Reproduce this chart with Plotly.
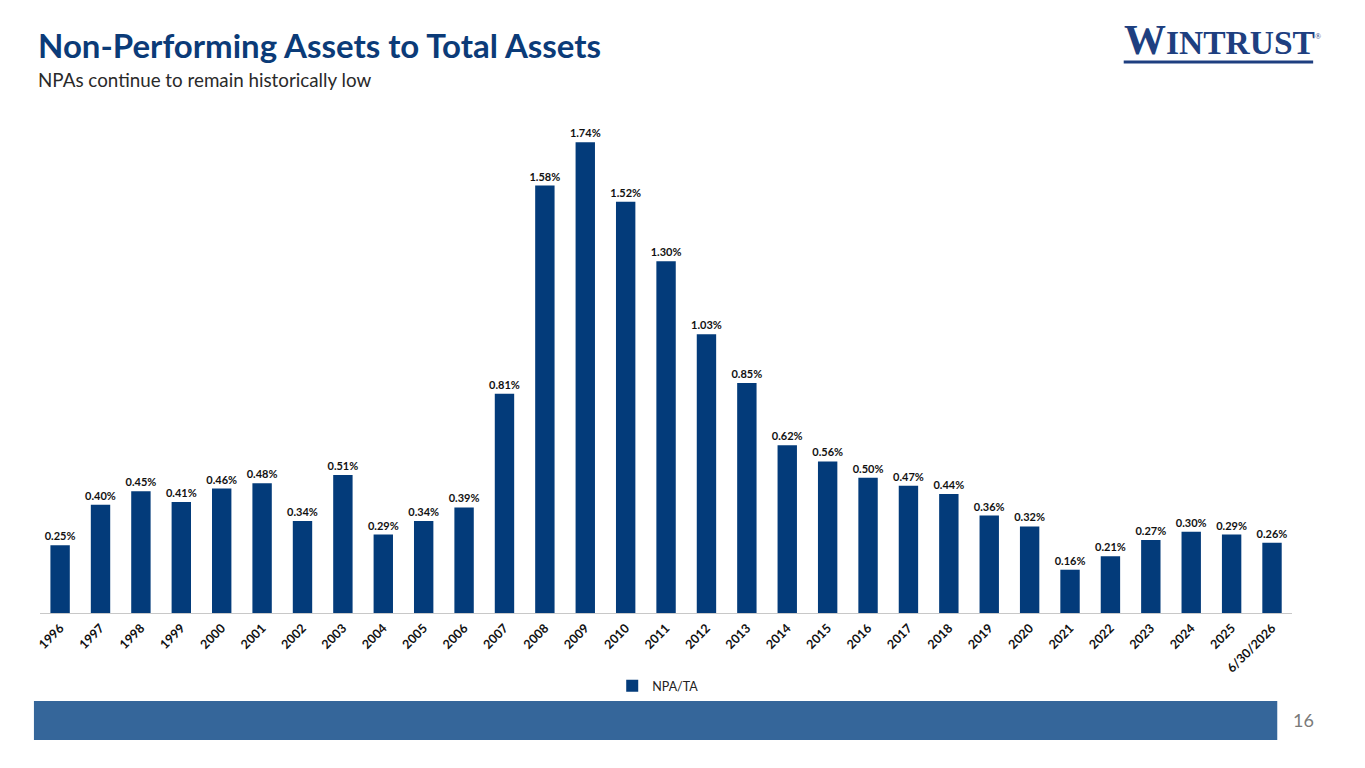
import plotly.graph_objects as go

categories = ["1996", "1997", "1998", "1999", "2000", "2001", "2002", "2003", "2004", "2005",
              "2006", "2007", "2008", "2009", "2010", "2011", "2012", "2013", "2014", "2015",
              "2016", "2017", "2018", "2019", "2020", "2021", "2022", "2023", "2024", "2025",
              "6/30/2026"]
npa_ta = [0.25, 0.40, 0.45, 0.41, 0.46, 0.48, 0.34, 0.51, 0.29, 0.34,
          0.39, 0.81, 1.58, 1.74, 1.52, 1.30, 1.03, 0.85, 0.62, 0.56,
          0.50, 0.47, 0.44, 0.36, 0.32, 0.16, 0.21, 0.27, 0.30, 0.29,
          0.26]
series_name = "NPA/TA"
title_text = "Non-Performing Assets to Total Assets"
subtitle_text = "NPAs continue to remain historically low"
page_number = "16"

# page body has an 8px margin; size the figure so it fills the rest of the window
OFF = 8
W, H = 1365 - OFF, 768 - OFF
NAVY = "#033B7A"
FONT = "Lato"

def px_x(x):
    return (x - OFF) / W

def px_y(y):
    return 1 - (y - OFF) / H

fig = go.Figure()
fig.add_trace(go.Bar(
    x=categories, y=npa_ta, name=series_name,
    marker=dict(color=NAVY, line=dict(width=0)),
    texttemplate="<b>%{y:.2f}%</b>", textposition="outside",
    textfont=dict(family=FONT, size=11, color="#111111"),
    constraintext="none",
    cliponaxis=False, showlegend=True,
))

fig.update_layout(
    width=W, height=H,
    margin=dict(l=0, r=0, t=0, b=0),
    paper_bgcolor="white", plot_bgcolor="white",
    bargap=0.52,
    font=dict(family=FONT, color="#111111"),
    xaxis=dict(domain=[px_x(36), px_x(1292)], tickangle=-45,
               tickfont=dict(family=FONT, size=12.5, color="#111111", weight="bold"),
               showline=True, linecolor="#C8C8C8", linewidth=1,
               showgrid=False, ticks="", anchor="y", ticklabelstandoff=2),
    yaxis=dict(domain=[px_y(613), px_y(126)], range=[0, 1.8],
               visible=False, showgrid=False, zeroline=False),
    showlegend=True,
    legend=dict(x=px_x(610), y=px_y(686), xanchor="left", yanchor="middle",
                orientation="h", font=dict(family=FONT, size=12.5, color="#222222"),
                itemwidth=30, bgcolor="rgba(0,0,0,0)"),
    shapes=[
        dict(type="rect", xref="paper", yref="paper",
             x0=px_x(30), x1=px_x(1277), y0=px_y(740), y1=px_y(701),
             fillcolor="#35669A", line=dict(width=0), layer="below"),
        dict(type="line", xref="paper", yref="paper",
             x0=px_x(1123), x1=px_x(1313), y0=px_y(62), y1=px_y(62),
             line=dict(color="#1E3F80", width=3)),
    ],
    annotations=[
        dict(text="<b>" + title_text + "</b>", xref="paper", yref="paper",
             x=px_x(32), y=px_y(45), xanchor="left", yanchor="middle", showarrow=False,
             font=dict(family=FONT, size=33, color="#0B3B78")),
        dict(text=subtitle_text, xref="paper", yref="paper",
             x=px_x(32), y=px_y(80), xanchor="left", yanchor="middle", showarrow=False,
             font=dict(family=FONT, size=18.8, color="#2A2A2A")),
        dict(text="<span style='font-size:42px'>W</span>INTRUST",
             xref="paper", yref="paper",
             x=px_x(1121), y=px_y(40), xanchor="left", yanchor="middle", showarrow=False,
             font=dict(family="Liberation Serif", size=33.5, color="#1E3F80", weight="bold")),
        dict(text="®", xref="paper", yref="paper",
             x=px_x(1318), y=px_y(37), xanchor="center", yanchor="middle", showarrow=False,
             font=dict(family="Liberation Serif", size=8, color="#1E3F80")),
        dict(text=page_number, xref="paper", yref="paper",
             x=px_x(1303), y=px_y(720), xanchor="center", yanchor="middle", showarrow=False,
             font=dict(family=FONT, size=18, color="#7A7A7A")),
    ],
)

fig.write_html("out.html")
